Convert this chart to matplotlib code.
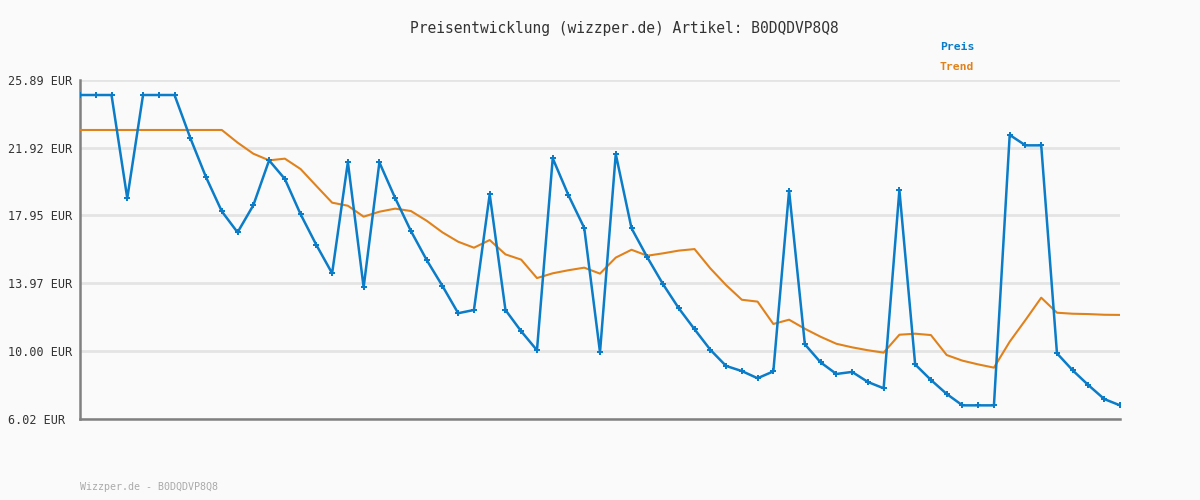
import matplotlib.pyplot as plt

# Preisverlauf (EUR)
preis = [25.01, 25.01, 25.01, 18.96, 25.01, 25.01, 25.01, 22.49, 20.19, 18.19,
         16.96, 18.55, 21.18, 20.09, 18.02, 16.22, 14.56, 21.08, 13.74, 21.06,
         18.97, 17.04, 15.34, 13.82, 12.22, 12.41, 19.19, 12.41, 11.16, 10.05,
         21.30, 19.13, 17.22, 9.93, 21.55, 17.20, 15.50, 13.92, 12.51, 11.28,
         10.08, 9.13, 8.83, 8.41, 8.81, 19.40, 10.40, 9.34, 8.66, 8.78,
         8.19, 7.82, 19.44, 9.22, 8.31, 7.49, 6.82, 6.82, 6.82, 22.67,
         22.06, 22.06, 9.87, 8.87, 8.00, 7.19, 6.82]

trend = [22.96, 22.96, 22.96, 22.96, 22.96, 22.96, 22.96, 22.96, 22.96, 22.96,
         22.22, 21.57, 21.18, 21.28, 20.67, 19.68, 18.70, 18.52, 17.88, 18.17,
         18.35, 18.21, 17.64, 16.96, 16.41, 16.06, 16.51, 15.67, 15.36, 14.28,
         14.56, 14.74, 14.89, 14.54, 15.48, 15.94, 15.59, 15.73, 15.89, 15.98,
         14.85, 13.87, 13.01, 12.90, 11.59, 11.84, 11.31, 10.84, 10.43, 10.22,
         10.05, 9.91, 10.96, 11.02, 10.94, 9.77, 9.44, 9.22, 9.03, 10.55,
         11.82, 13.13, 12.25, 12.19, 12.17, 12.13, 12.12]

yticks = [6.02, 10.00, 13.97, 17.95, 21.92, 25.89]
ylabels = ['%.2f EUR' % v for v in yticks]

blue = '#0a7cc8'
orange = '#e0821c'
mono = 'DejaVu Sans Mono'

fig = plt.figure(figsize=(12, 5), dpi=100, facecolor='#fafafa')
ax = fig.add_axes([80 / 1200, 1 - 419 / 500, 1040 / 1200, 339 / 500])
ax.set_facecolor('#fafafa')

x = list(range(len(preis)))
ax.plot(x, trend, color=orange, lw=1.5, zorder=3)
ax.plot(x, preis, color=blue, lw=1.8, marker='P', markersize=4,
        markeredgewidth=0, zorder=4)

ax.set_xlim(0, len(preis) - 1)
ax.set_ylim(yticks[0], yticks[-1])
ax.set_xticks([])
ax.set_yticks(yticks)
ax.set_yticklabels(ylabels, family=mono, fontsize=8.5, color='#333333', ha='left')
ax.tick_params(axis='y', length=0, pad=51.5)
ax.grid(axis='y', color='#e4e4e4', lw=2, zorder=0)

for s in ['top', 'right']:
    ax.spines[s].set_visible(False)
for s in ['left', 'bottom']:
    ax.spines[s].set_color('#808080')
    ax.spines[s].set_linewidth(1.8)

fig.text(624 / 1200, 1 - 28 / 500, 'Preisentwicklung (wizzper.de) Artikel: B0DQDVP8Q8',
         family=mono, fontsize=10.5, color='#333333', ha='center', va='center')
fig.text(940 / 1200, 1 - 47 / 500, 'Preis', family=mono, fontsize=8.2,
         fontweight='bold', color=blue, ha='left', va='center')
fig.text(940 / 1200, 1 - 67 / 500, 'Trend', family=mono, fontsize=8.2,
         fontweight='bold', color=orange, ha='left', va='center')
fig.text(80 / 1200, 1 - 487 / 500, 'Wizzper.de - B0DQDVP8Q8', family=mono,
         fontsize=7.2, color='#aaaaaa', ha='left', va='center')

fig.savefig('out.png', dpi=100, facecolor=fig.get_facecolor())
